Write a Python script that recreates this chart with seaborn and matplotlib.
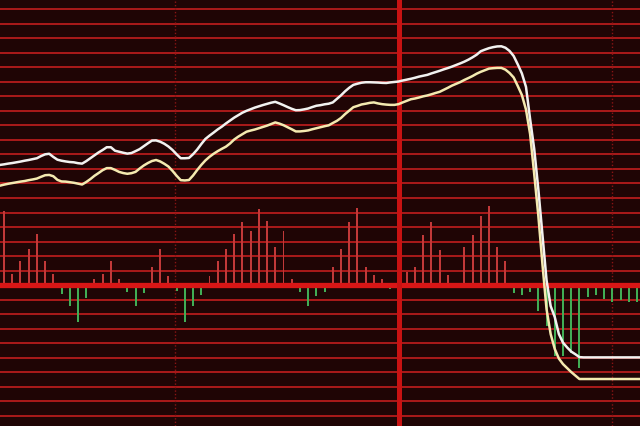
import numpy as np
import pandas as pd
import matplotlib
matplotlib.use('Agg')
import matplotlib.pyplot as plt
import seaborn as sns

# histogram under the lines, one bar per time slot (grid units, + up / - down)
bar_vals = [5.10, 0.76, 1.68, 2.48, 3.52, 1.68, 0.76, -0.62, -1.43, -2.53,
            -0.92, 0.41, 0.76, 1.63, 0.41, -0.46, -1.47, -0.55, 1.22, 2.48,
            0.60, -0.39, -2.57, -1.47, -0.69, 0.60, 1.68, 2.48, 3.52, 4.37,
            3.75, 5.24, 4.44, 2.60, 3.75, 0.41, -0.50, -1.43, -0.74, -0.46,
            1.26, 2.48, 4.37, 5.29, 1.26, 0.69, 0.41, -0.30, 0.30, 0.87,
            1.26, 3.45, 4.37, 2.41, 0.69, -0.20, 2.60, 3.45, 4.74, 5.47,
            2.60, 1.68, -0.57, -0.67, -0.46, -1.77, -2.80, -4.87, -4.87, -4.70,
            -5.70, -0.83, -0.71, -0.96, -1.15, -1.06, -1.16, -1.16]

# white price line, sampled every half slot starting at -0.5
white_line = [8.28, 8.32, 8.37, 8.41, 8.46, 8.51, 8.57, 8.62, 8.68, 8.74,
              8.89, 9.01, 9.05, 8.83, 8.64, 8.57, 8.52, 8.48, 8.46, 8.40,
              8.37, 8.54, 8.74, 8.94, 9.14, 9.31, 9.50, 9.50, 9.26, 9.19,
              9.12, 9.06, 9.10, 9.23, 9.37, 9.57, 9.77, 9.96, 9.97, 9.88,
              9.74, 9.55, 9.31, 9.01, 8.74, 8.74, 8.76, 9.02, 9.34, 9.72,
              10.07, 10.30, 10.51, 10.73, 10.92, 11.14, 11.34, 11.54, 11.71, 11.88,
              12.01, 12.12, 12.23, 12.32, 12.41, 12.49, 12.57, 12.63, 12.52, 12.40,
              12.27, 12.15, 12.05, 12.06, 12.11, 12.17, 12.27, 12.36, 12.40, 12.46,
              12.50, 12.59, 12.83, 13.08, 13.36, 13.60, 13.80, 13.88, 13.95, 13.98,
              13.98, 13.97, 13.96, 13.94, 13.93, 13.97, 14.00, 14.03, 14.10, 14.16,
              14.22, 14.29, 14.37, 14.43, 14.49, 14.59, 14.68, 14.77, 14.87, 14.96,
              15.06, 15.17, 15.28, 15.40, 15.54, 15.70, 15.88, 16.12, 16.23, 16.33,
              16.40, 16.45, 16.46, 16.36, 16.14, 15.79, 15.21, 14.59, 13.66, 11.45,
              9.38, 6.62, 3.45, 0.34, -1.45, -2.21, -3.38, -3.97, -4.30, -4.59,
              -4.77, -4.97, -4.99, -4.99, -4.99, -4.99, -4.99, -4.99, -4.99, -4.99,
              -4.99, -4.99, -4.99, -4.99, -4.99, -4.99, -4.99]

# yellow average line, same sampling
yellow_line = [6.85, 6.92, 6.98, 7.03, 7.08, 7.13, 7.17, 7.23, 7.28, 7.34,
               7.46, 7.57, 7.59, 7.50, 7.25, 7.14, 7.13, 7.09, 7.05, 6.99,
               6.93, 7.10, 7.30, 7.53, 7.72, 7.92, 8.06, 8.06, 7.94, 7.80,
               7.72, 7.67, 7.71, 7.80, 8.03, 8.24, 8.41, 8.55, 8.62, 8.52,
               8.36, 8.17, 7.87, 7.53, 7.23, 7.21, 7.24, 7.55, 7.93, 8.28,
               8.59, 8.84, 9.05, 9.23, 9.39, 9.54, 9.76, 10.03, 10.23, 10.40,
               10.57, 10.65, 10.72, 10.81, 10.90, 10.99, 11.10, 11.21, 11.13, 11.02,
               10.88, 10.74, 10.59, 10.59, 10.62, 10.66, 10.74, 10.81, 10.88, 10.95,
               11.01, 11.17, 11.32, 11.52, 11.79, 12.03, 12.26, 12.35, 12.45, 12.50,
               12.56, 12.59, 12.52, 12.47, 12.44, 12.42, 12.42, 12.47, 12.59, 12.70,
               12.81, 12.86, 12.93, 13.01, 13.07, 13.15, 13.24, 13.32, 13.46, 13.60,
               13.75, 13.87, 13.99, 14.14, 14.27, 14.41, 14.57, 14.70, 14.81, 14.92,
               14.95, 14.97, 14.97, 14.85, 14.62, 14.31, 13.72, 13.10, 12.10, 10.41,
               7.66, 4.79, 1.45, -1.66, -3.38, -4.41, -5.07, -5.45, -5.72, -6.00,
               -6.24, -6.48, -6.48, -6.48, -6.48, -6.48, -6.48, -6.48, -6.48, -6.48,
               -6.48, -6.48, -6.48, -6.48, -6.48, -6.48, -6.48]

bg = '#1f0505'
grid_red = '#b51c1c'

bars = pd.DataFrame({'t': np.arange(len(bar_vals)), 'v': bar_vals})
bars['dir'] = np.where(bars['v'] >= 0, 'up', 'down')

lines = pd.concat([
    pd.DataFrame({'t': -0.5 + 0.5 * np.arange(len(yellow_line)), 'v': yellow_line, 'line': 'avg'}),
    pd.DataFrame({'t': -0.5 + 0.5 * np.arange(len(white_line)), 'v': white_line, 'line': 'price'}),
])

fig = plt.figure(figsize=(6.4, 4.27), dpi=100)
ax = fig.add_axes([0, 0, 1, 1])
fig.patch.set_facecolor(bg)
ax.set_facecolor(bg)

sns.barplot(data=bars, x='t', y='v', hue='dir', palette={'up': '#d82222', 'down': '#2fbf4a'},
            native_scale=True, dodge=False, width=0.24, errorbar=None, legend=False,
            linewidth=0, ax=ax, zorder=2)

ax.axhline(0, color='#d81616', lw=3.8, zorder=3)
ax.axvline(48.02, color='#c81212', lw=3.6, zorder=3)
for xv in (20.85, 74.0):
    ax.axvline(xv, color='#8a1414', lw=1.0, ls=(0, (1, 1.5)), zorder=1.5)

sns.lineplot(data=lines, x='t', y='v', hue='line', palette={'avg': '#f4eab0', 'price': '#f2f2f0'},
             sort=False, estimator=None, lw=1.8, legend=False, ax=ax, zorder=4)

ax.set_xlim(-0.487, 77.37)
ax.set_ylim(-9.72, 19.72)
ax.set_yticks(range(-9, 20))
ax.set_axisbelow(True)
ax.grid(axis='y', color=grid_red, lw=1.3)
ax.grid(axis='x', visible=False)
ax.tick_params(length=0, labelbottom=False, labelleft=False)
ax.set_xlabel('')
ax.set_ylabel('')
for s in ax.spines.values():
    s.set_visible(False)

fig.savefig('out.png', dpi=100, facecolor=bg)
